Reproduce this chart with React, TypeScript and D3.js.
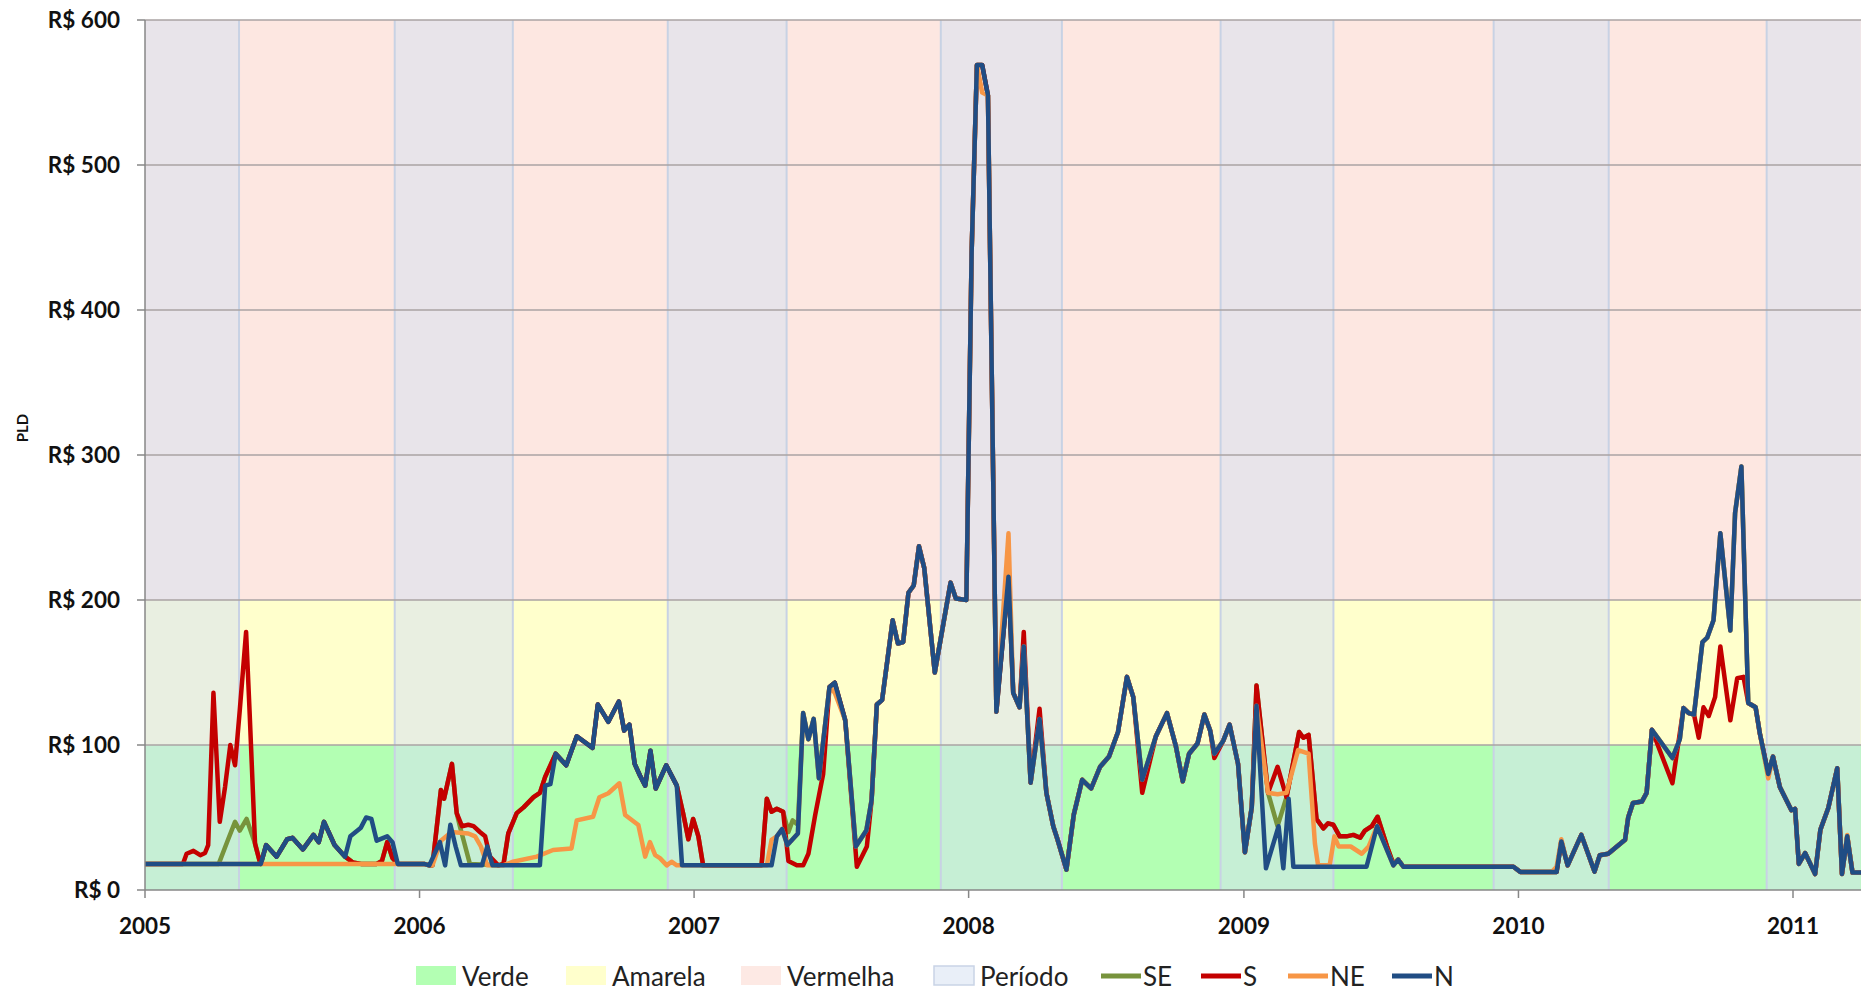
import * as d3 from 'd3'

// zone thresholds (R$) and wet-season "período" windows
const ZONES = [
  { name: 'Verde', from: 0, to: 100 },
  { name: 'Amarela', from: 100, to: 200 },
  { name: 'Vermelha', from: 200, to: 600 },
]

const PERIODS: [string, string][] = [
  ['2005-01-01', '2005-05-06'],
  ['2005-11-29', '2006-05-05'],
  ['2006-11-27', '2007-05-04'],
  ['2007-11-25', '2008-05-04'],
  ['2008-12-01', '2009-04-30'],
  ['2009-11-29', '2010-05-01'],
  ['2010-11-27', '2011-04-01'],
]

const Y_TICKS = [0, 100, 200, 300, 400, 500, 600]
const YEARS = [2005, 2006, 2007, 2008, 2009, 2010, 2011]

// [week since 2005-01-01, R$/MWh]
const N_PTS: [number, number][] = [
  [0, 18], [22, 18], [23, 31], [25, 23], [27, 35], [28, 36], [30, 28], [32, 38], [33, 33], [34, 47], [36, 31], [38, 23], [39, 37], [41, 43], [42, 50], [43, 49], [44, 34], [46, 37], [47, 33], [48, 18],
  [53, 18], [54, 17], [56, 33], [57, 17], [58, 45], [59, 30], [60, 17], [64, 17], [65, 30], [66, 17], [75, 17], [76, 72], [77, 73], [78, 94],
  [80, 86], [82, 106], [85, 98], [86, 128], [88, 116], [90, 130], [91, 110], [92, 114], [93, 87], [94, 79], [95, 72], [96, 96], [97, 70], [99, 86], [101, 72], [102, 17],
  [119, 17], [120, 37], [121, 42], [122, 31], [124, 39], [125, 122], [126, 104], [127, 118], [128, 77], [130, 140], [131, 143], [133, 117], [135, 30], [137, 41],
  [138, 62], [139, 128], [140, 131], [142, 186], [143, 170], [144, 171], [145, 205], [146, 210], [147, 237], [148, 222], [150, 150], [153, 212], [154, 201], [156, 200],
  [157, 440], [158, 569], [159, 569], [160.1, 548], [161.7, 123], [164, 216], [164.9, 136], [166.1, 126], [166.9, 168], [168.2, 74], [169.9, 118], [171.2, 67],
  [172.5, 44], [173.3, 35], [175, 14], [176.4, 52], [178, 76], [179.7, 70], [181.4, 85], [183.1, 92], [184.8, 109], [186.5, 147], [187.7, 133], [189.4, 76],
  [192, 106], [194.1, 122], [195.8, 99], [197.1, 75], [198.3, 94], [199.9, 101], [201.2, 121], [202.3, 110], [203.1, 94], [204.8, 103], [206, 114], [207.6, 87], [208.9, 26], [210.2, 57],
  [211.1, 127], [212.9, 15], [215.3, 44], [216.2, 15], [217.2, 63], [218.1, 16], [232, 16], [234, 44], [237.1, 17],
  [238, 21], [239, 16], [259.9, 16], [261.2, 12.5], [268.1, 12.5], [269, 33.5], [270.2, 17], [272.8, 38], [275.3, 12.7], [276.3, 24], [277.9, 25], [281.1, 34.6], [281.7, 50], [282.6, 60], [284.3, 61], [285.2, 67], [286.2, 110.5],
  [290.1, 91], [291.5, 104], [292.2, 125.5], [293.2, 122], [294.2, 121], [295.8, 171], [296.7, 174], [297.9, 186], [299.2, 246], [301.1, 179], [302, 260], [303.2, 292],
  [304.5, 129], [305.9, 126], [306.7, 108], [308.3, 80], [309.2, 92], [310.5, 71], [312.7, 55], [313.4, 56], [314.1, 18], [315.3, 25.5], [317.2, 11], [318.2, 41.5], [319.7, 56.5], [321.4, 84], [322.3, 11], [323.3, 37], [324.3, 12], [326, 12],
]

const S_PTS: [number, number][] = [
  [0, 18], [7.2, 18], [7.9, 25], [9.2, 27], [10.5, 24], [11.4, 25.5], [12, 31], [13, 136], [14.2, 47], [15.2, 71], [16.2, 100], [17.1, 86], [18, 124], [19.2, 178], [19.9, 120], [20.9, 32], [21.8, 19.5], [22, 18],
  [23, 31], [25, 23], [27, 35], [28, 36], [30, 28], [32, 38], [33, 33], [34, 47], [36, 31], [38, 23], [39.5, 19], [41, 18], [44, 18], [45, 20], [46, 33], [47, 22], [48, 18],
  [53, 18], [54, 17], [54.6, 17], [56.2, 69], [56.8, 63], [58.3, 87], [59.2, 53], [60.2, 44], [61.4, 45], [62.4, 44], [63.6, 40], [64.6, 37], [65.5, 23], [67.1, 17], [68.1, 18], [69, 39], [70.6, 53], [71.9, 57], [73.8, 64], [75, 67], [76, 78], [78, 94],
  [80, 86], [82, 106], [85, 98], [86, 128], [88, 116], [90, 130], [91, 110], [92, 114], [93, 87], [94, 79], [95, 72], [96, 96], [97, 70], [99, 86], [101, 72],
  [102.2, 53], [103.2, 35], [104.1, 49], [105.1, 37], [106, 17], [117.1, 17], [118.1, 63], [119, 54], [120, 56], [121.2, 54], [122.2, 20], [123.8, 17], [125, 17], [126, 25], [127.3, 52], [128.8, 80],
  [130, 140], [131, 143], [133, 117], [135.2, 16], [137.1, 30],
  [138, 62], [139, 128], [140, 131], [142, 186], [143, 170], [144, 171], [145, 205], [146, 210], [147, 237], [148, 222], [150, 150], [153, 212], [154, 201], [156, 200],
  [157, 440], [158, 569], [159, 569], [160.1, 548], [161.7, 123], [164, 216], [164.9, 136], [166.1, 126], [166.9, 178], [168.2, 74], [169.9, 125], [171.2, 67],
  [172.5, 44], [173.3, 35], [175, 14], [176.4, 52], [178, 76], [179.7, 70], [181.4, 85], [183.1, 92], [184.8, 109], [186.5, 147], [187.7, 133], [189.4, 67],
  [192, 106], [194.1, 122], [195.8, 99], [197.1, 75], [198.3, 94], [199.9, 101], [201.2, 121], [202.3, 110], [203.1, 91], [204.8, 103], [206, 114], [207.6, 87], [208.9, 26], [210.2, 57],
  [211.1, 141], [213.3, 67], [215.1, 85], [216.8, 64], [219.2, 109], [220, 105], [221, 107], [222.5, 49], [223.8, 42.5], [224.7, 46], [225.7, 45], [226.9, 37], [228.2, 37], [229.5, 38], [230.8, 36], [231.7, 41], [233, 44], [234.1, 50.5], [235.9, 30], [237.1, 18],
  [238, 21], [239, 16], [259.9, 16], [261.2, 12.5], [268.1, 12.5], [269, 33.5], [270.2, 17], [272.8, 38], [275.3, 12.7], [276.3, 24], [277.9, 25], [281.1, 34.6], [281.7, 50], [282.6, 60], [284.3, 61], [285.2, 67], [286.2, 110.5],
  [290.1, 73.6], [292.2, 125.5], [293.2, 122], [294.2, 121], [295.1, 105], [296, 126], [297, 120], [298.2, 133], [299.2, 168], [301.1, 117], [302.4, 146], [303.6, 147],
  [304.5, 129], [305.9, 126], [306.7, 108], [308.3, 80], [309.2, 92], [310.5, 71], [312.7, 55], [313.4, 56], [314.1, 18], [315.3, 25.5], [317.2, 11], [318.2, 41.5], [319.7, 56.5], [321.4, 84], [322.3, 11], [323.3, 37], [324.3, 12], [326, 12],
]

const SE_PTS: [number, number][] = [
  [0, 18], [14, 18], [15.8, 35], [17.1, 47], [18, 41], [19.3, 49], [20.9, 32], [21.8, 19.5], [22, 18],
  [23, 31], [25, 23], [27, 35], [28, 36], [30, 28], [32, 38], [33, 33], [34, 47], [36, 31], [38, 23], [39.5, 19], [41, 18], [44, 18], [45, 20], [46, 33], [47, 22], [48, 18],
  [53, 18], [54, 17], [54.6, 17], [56.2, 69], [56.8, 63], [58.3, 87], [59.2, 53], [59.8, 44], [61.7, 18], [67.1, 17], [68.1, 18], [69, 39], [70.6, 53], [71.9, 57], [73.8, 64], [75, 67], [76, 78], [78, 94],
  [80, 86], [82, 106], [85, 98], [86, 128], [88, 116], [90, 130], [91, 110], [92, 114], [93, 87], [94, 79], [95, 72], [96, 96], [97, 70], [99, 86], [101, 72],
  [102.2, 53], [103.2, 35], [104.1, 49], [105.1, 37], [106, 17], [117.1, 17], [118.1, 63], [119, 54], [120, 56], [121.2, 54], [122.2, 40], [123, 48], [124, 45],
  [125, 122], [126, 104], [127, 118], [128, 77], [130, 140], [131, 143], [133, 117], [135, 30], [137, 41],
  [138, 62], [139, 128], [140, 131], [142, 186], [143, 170], [144, 171], [145, 205], [146, 210], [147, 237], [148, 222], [150, 150], [153, 212], [154, 201], [156, 200],
  [157, 440], [158, 569], [159, 569], [160.1, 548], [161.7, 123], [164, 216], [164.9, 136], [166.1, 126], [166.9, 168], [168.2, 74], [169.9, 118], [171.2, 67],
  [172.5, 44], [173.3, 35], [175, 14], [176.4, 52], [178, 76], [179.7, 70], [181.4, 85], [183.1, 92], [184.8, 109], [186.5, 147], [187.7, 133], [189.4, 76],
  [192, 106], [194.1, 122], [195.8, 99], [197.1, 75], [198.3, 94], [199.9, 101], [201.2, 121], [202.3, 110], [203.1, 94], [204.8, 103], [206, 114], [207.6, 87], [208.9, 26], [210.2, 57],
  [211.1, 141], [213.3, 67], [215.1, 44], [216.8, 64], [219.2, 109], [220, 105], [221, 107], [222.5, 49], [223.8, 42.5], [224.7, 46], [225.7, 45], [226.9, 37], [228.2, 37], [229.5, 38], [230.8, 36], [231.7, 41], [233, 44], [234.1, 50.5], [235.9, 30], [237.1, 18],
  [238, 21], [239, 16], [259.9, 16], [261.2, 12.5], [268.1, 12.5], [269, 33.5], [270.2, 17], [272.8, 38], [275.3, 12.7], [276.3, 24], [277.9, 25], [281.1, 34.6], [281.7, 50], [282.6, 60], [284.3, 61], [285.2, 67], [286.2, 110.5],
  [290.1, 91], [291.5, 104], [292.2, 125.5], [293.2, 122], [294.2, 121], [295.8, 171], [296.7, 174], [297.9, 186], [299.2, 246], [301.1, 179], [302, 260], [303.2, 292],
  [304.5, 129], [305.9, 126], [306.7, 108], [308.3, 80], [309.2, 92], [310.5, 71], [312.7, 55], [313.4, 56], [314.1, 18], [315.3, 25.5], [317.2, 11], [318.2, 41.5], [319.7, 56.5], [321.4, 84], [322.3, 11], [323.3, 37], [324.3, 12], [326, 12],
]

const NE_PTS: [number, number][] = [
  [0, 18], [48, 18],
  [53, 18], [54, 17], [54.6, 17], [56.2, 34], [58.2, 40], [61.4, 39], [62.7, 37], [63.8, 30], [65, 17], [68, 17], [69.9, 19.5], [74.4, 23], [77.5, 27.6], [81, 28.7], [82, 48], [85.1, 50.5], [86.3, 64], [88, 66.7], [90.1, 73.6], [91.2, 51.7], [93.7, 44.8], [95, 23], [95.9, 33], [96.9, 24], [97.8, 22], [99.1, 17], [100, 19.5], [101, 17],
  [117.1, 17], [118.1, 17], [119, 34.5], [120, 37], [121, 42], [122, 31], [124, 39], [125, 122], [126, 104], [127, 118], [128, 77], [130, 140], [131, 136], [133, 117], [135, 30], [137, 41],
  [138, 62], [139, 128], [140, 131], [142, 186], [143, 170], [144, 171], [145, 205], [146, 210], [147, 237], [148, 222], [150, 150], [153, 212], [154, 201], [156, 200],
  [157, 440], [158, 569], [159, 550], [160.1, 548], [161.7, 123], [164, 246], [164.9, 136], [166.1, 126], [166.9, 168], [168.2, 74], [169.9, 118], [171.2, 67],
  [172.5, 44], [173.3, 35], [175, 14], [176.4, 52], [178, 76], [179.7, 70], [181.4, 85], [183.1, 92], [184.8, 109], [186.5, 147], [187.7, 133], [189.4, 76],
  [192, 106], [194.1, 122], [195.8, 99], [197.1, 75], [198.3, 94], [199.9, 101], [201.2, 121], [202.3, 110], [203.1, 94], [204.8, 103], [206, 114], [207.6, 87], [208.9, 26], [210.2, 57],
  [211.1, 127], [213.3, 67], [215.1, 66], [216.8, 67], [219, 96.5], [221, 94], [222.2, 32], [222.8, 17], [225, 17], [225.9, 37], [226.7, 30], [229, 30], [231.1, 25], [232.4, 30], [234, 44], [237.1, 17],
  [238, 21], [239, 16], [259.9, 16], [261.2, 12.5], [267.2, 12.5], [268.1, 16], [269, 35], [270.2, 17], [272.8, 38], [275.3, 12.7], [276.3, 24], [277.9, 25], [281.1, 34.6], [281.7, 50], [282.6, 60], [284.3, 61], [285.2, 67], [286.2, 110.5],
  [290.1, 91], [291.5, 104], [292.2, 125.5], [293.2, 122], [294.2, 121], [295.8, 171], [296.7, 174], [297.9, 186], [299.2, 246], [301.1, 179], [302, 260], [303.2, 292],
  [304.5, 129], [305.9, 126], [306.7, 108], [308.3, 77], [309.2, 92], [310.5, 71], [312.7, 55], [313.4, 56], [314.1, 18], [315.3, 25.5], [317.2, 11], [318.2, 41.5], [319.7, 56.5], [321.4, 84], [322.3, 11], [323.3, 38], [324.3, 12], [326, 12],
]

const SERIES = [
  { name: 'SE', pts: SE_PTS },
  { name: 'S', pts: S_PTS },
  { name: 'NE', pts: NE_PTS },
  { name: 'N', pts: N_PTS },
]

const zoneFill: Record<string, string> = {
  Verde: '#b3ffb3',
  Amarela: '#ffffcc',
  Vermelha: '#fde7e1',
}
const lineColor: Record<string, string> = {
  SE: '#77933c',
  S: '#c40000',
  NE: '#f79646',
  N: '#204d84',
}

const W = 1861
const H = 993
const PLOT = { left: 145, right: 1861, top: 20, bottom: 890 }
const FONT = 'Lato, "Open Sans", "Liberation Sans", sans-serif'

export default function App() {
  const start = new Date(2005, 0, 1)
  const x = d3
    .scaleTime()
    .domain([start, new Date(2011, 0, 1)])
    .range([PLOT.left, 1793])
  const y = d3.scaleLinear().domain([0, 600]).range([PLOT.bottom, PLOT.top])
  const parse = d3.timeParse('%Y-%m-%d')
  const weekDate = (w: number) => new Date(start.getTime() + w * 7 * 86400000)

  const line = d3
    .line<[number, number]>()
    .x((d) => x(weekDate(d[0])))
    .y((d) => y(d[1]))

  const clampX = (v: number) => Math.max(PLOT.left, Math.min(PLOT.right, v))

  // legend layout (left edge of each key)
  const legendBoxes = [
    { label: 'Verde', x0: 416, fill: zoneFill.Verde, stroke: 'none' },
    { label: 'Amarela', x0: 566, fill: zoneFill.Amarela, stroke: 'none' },
    { label: 'Vermelha', x0: 741, fill: '#fde9e4', stroke: 'none' },
    { label: 'Período', x0: 934, fill: '#e9eff8', stroke: '#c9d4e6' },
  ]
  const legendLines = [
    { label: 'SE', x0: 1101 },
    { label: 'S', x0: 1201 },
    { label: 'NE', x0: 1288 },
    { label: 'N', x0: 1392 },
  ]
  const legendBase = 986

  return (
    <>
      <style>{`body{margin:0;background:#fff}`}</style>
      <svg width={W} height={H} viewBox={`0 0 ${W} ${H}`} style={{ display: 'block', fontFamily: FONT }}>
        <defs>
          <clipPath id="plot-clip">
            <rect x={PLOT.left} y={PLOT.top - 4} width={PLOT.right - PLOT.left} height={PLOT.bottom - PLOT.top + 4} />
          </clipPath>
        </defs>

        {/* horizontal PLD zones */}
        {ZONES.map((z) => (
          <rect
            key={z.name}
            x={PLOT.left}
            y={y(z.to)}
            width={PLOT.right - PLOT.left}
            height={y(z.from) - y(z.to)}
            fill={zoneFill[z.name]}
          />
        ))}

        {/* período columns */}
        {PERIODS.map(([a, b], i) => {
          const x0 = clampX(x(parse(a) as Date))
          const x1 = clampX(x(parse(b) as Date))
          return (
            <g key={i}>
              <rect x={x0} y={PLOT.top} width={x1 - x0} height={PLOT.bottom - PLOT.top} fill="rgb(214,225,242)" opacity={0.54} />
              {x0 > PLOT.left + 1 && <line x1={x0} x2={x0} y1={PLOT.top} y2={PLOT.bottom} stroke="#c8d2e4" strokeWidth={2} />}
              {x1 < PLOT.right - 1 && <line x1={x1} x2={x1} y1={PLOT.top} y2={PLOT.bottom} stroke="#c8d2e4" strokeWidth={2} />}
            </g>
          )
        })}

        {/* gridlines */}
        {Y_TICKS.filter((t) => t > 0).map((t) => (
          <line key={t} x1={PLOT.left} x2={PLOT.right} y1={y(t)} y2={y(t)} stroke="#aaa3a3" strokeWidth={1.5} />
        ))}

        {/* series */}
        <g clipPath="url(#plot-clip)">
          {SERIES.map((s) => (
            <path
              key={s.name}
              d={line(s.pts) ?? ''}
              fill="none"
              stroke={lineColor[s.name]}
              strokeWidth={4.5}
              strokeLinejoin="round"
              strokeLinecap="round"
            />
          ))}
        </g>

        {/* y axis */}
        <line x1={PLOT.left} x2={PLOT.left} y1={PLOT.top} y2={PLOT.bottom} stroke="#878787" strokeWidth={1.5} />
        {Y_TICKS.map((t) => (
          <g key={t}>
            <line x1={PLOT.left - 8} x2={PLOT.left} y1={y(t)} y2={y(t)} stroke="#878787" strokeWidth={1.5} />
            <text
              x={PLOT.left - 25}
              y={y(t)}
              dy="0.36em"
              textAnchor="end"
              fontSize={22.5}
              fontWeight={700}
              fill="#111"
            >
              {`R$ ${t}`}
            </text>
          </g>
        ))}

        {/* x axis */}
        <line x1={PLOT.left} x2={PLOT.right} y1={PLOT.bottom} y2={PLOT.bottom} stroke="#878787" strokeWidth={1.5} />
        {YEARS.map((yr) => {
          const px = x(new Date(yr, 0, 1))
          return (
            <g key={yr}>
              <line x1={px} x2={px} y1={PLOT.bottom} y2={PLOT.bottom + 8} stroke="#878787" strokeWidth={1.5} />
              <text x={px} y={934} textAnchor="middle" fontSize={22.5} fontWeight={700} fill="#111">
                {yr}
              </text>
            </g>
          )
        })}

        {/* axis title */}
        <text
          transform={`translate(28,428) rotate(-90)`}
          textAnchor="middle"
          fontSize={15}
          fontWeight={700}
          fill="#111"
        >
          PLD
        </text>

        {/* legend */}
        {legendBoxes.map((b) => (
          <g key={b.label}>
            <rect x={b.x0} y={legendBase - 20} width={40} height={19} fill={b.fill} stroke={b.stroke} strokeWidth={1.5} />
            <text x={b.x0 + 46} y={legendBase} fontSize={26} fill="#222">
              {b.label}
            </text>
          </g>
        ))}
        {legendLines.map((l) => (
          <g key={l.label}>
            <line x1={l.x0} x2={l.x0 + 40} y1={legendBase - 10} y2={legendBase - 10} stroke={lineColor[l.label]} strokeWidth={5} />
            <text x={l.x0 + 42} y={legendBase} fontSize={26} fill="#222">
              {l.label}
            </text>
          </g>
        ))}
      </svg>
    </>
  )
}
